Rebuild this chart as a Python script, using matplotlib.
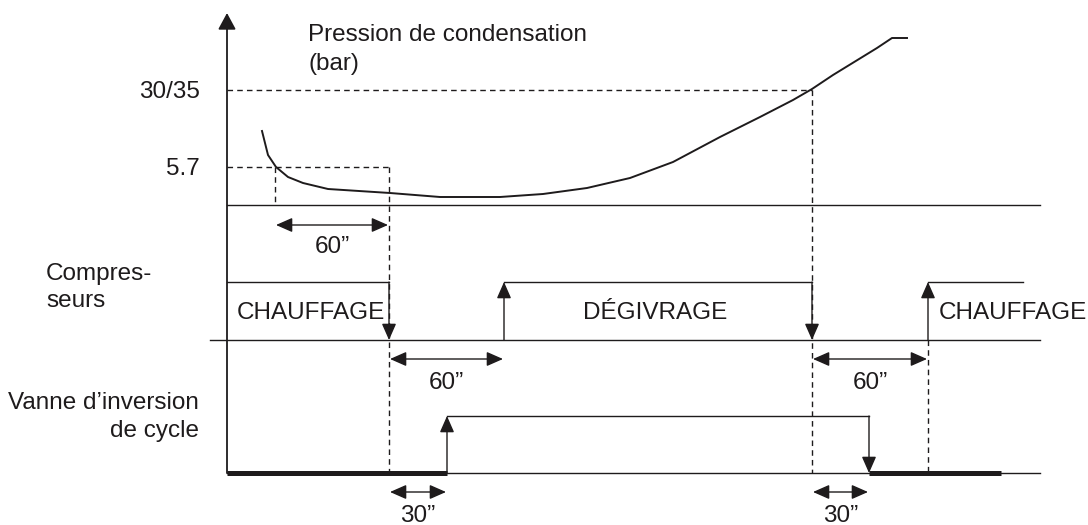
import matplotlib.pyplot as plt

plt.rcParams['font.family'] = ['Liberation Sans', 'DejaVu Sans']

ink = '#1e1b1c'
fs = 17.5

# time scale of the diagram (x) and signal levels (y, drawn downward)
t_axis = 227
t_end = 1040
t_pressure_start = 275   # pressure drops under 5.7 bar
t_comp_off = [389, 812]
t_comp_on = [504, 928]
t_valve_on = 447
t_valve_off = 869
t_comp_last = 1023
t_valve_last = 1001

# condensation pressure curve
t_curve = [262, 268, 276, 288, 303, 328, 390, 440, 500, 543, 587, 630,
           673, 720, 760, 793, 812, 833, 877, 892, 907]
p_curve = [131, 155, 167, 177, 183, 189, 193, 197, 197, 194, 188, 178,
           162, 137, 117, 100, 89, 75, 48, 38, 38]

level_labels = ['30/35', '5.7']
level_y = [90, 167]

y_press_base = 205
y_comp_hi, y_comp_lo = 282, 340
y_valve_hi, y_valve_lo = 416, 473


def arrow(x0, y0, x1, y1, style='-|>'):
    ax.annotate('', xy=(x1, y1), xytext=(x0, y0),
                arrowprops=dict(arrowstyle=style + ',head_length=0.5,head_width=0.22',
                                lw=1, color=ink, shrinkA=0, shrinkB=0,
                                mutation_scale=20))


def dashed(xs, ys):
    ax.plot(xs, ys, color=ink, lw=1, linestyle=(0, (4, 3)))


def label(x, y, s, ha='left'):
    ax.text(x, y, s, ha=ha, va='baseline', fontsize=fs, color=ink)


def span(x0, x1, y, s, y_text):
    arrow(x0 + 1, y, x1 - 1, y, style='<|-|>')
    label((x0 + x1) / 2, y_text, s, ha='center')


fig = plt.figure(figsize=(10.88, 5.25), dpi=100)
ax = fig.add_axes([0, 0, 1, 1])
ax.set_xlim(0, 1088)
ax.set_ylim(525, 0)
ax.axis('off')

# vertical axis
ax.annotate('', xy=(t_axis, 13), xytext=(t_axis, y_valve_lo),
            arrowprops=dict(arrowstyle='-|>,head_length=0.5,head_width=0.27',
                            lw=1.3, color=ink, shrinkA=0, shrinkB=0,
                            mutation_scale=20))

# pressure panel
ax.plot([t_axis, t_end], [y_press_base] * 2, color=ink, lw=1)
ax.plot(t_curve, p_curve, color=ink, lw=1.4)
dashed([t_axis, t_comp_off[1]], [level_y[0]] * 2)
dashed([t_axis, t_comp_off[0]], [level_y[1]] * 2)
dashed([t_pressure_start] * 2, [level_y[1], y_press_base])
dashed([t_comp_off[0]] * 2, [level_y[1], y_valve_lo])
dashed([t_comp_off[1]] * 2, [level_y[0], y_valve_lo])
dashed([t_comp_on[1]] * 2, [y_comp_lo, y_valve_lo])
for lab, y in zip(level_labels, level_y):
    label(200, y + 8, lab, ha='right')
label(308, 41, 'Pression de condensation')
label(308, 70, '(bar)')
span(t_pressure_start, t_comp_off[0], 225, '60\u201d', 253)

# compressors panel
ax.plot([210, t_end], [y_comp_lo] * 2, color=ink, lw=1)
ax.plot([t_axis, t_comp_off[0]], [y_comp_hi] * 2, color=ink, lw=1)
ax.plot([t_comp_on[0], t_comp_off[1]], [y_comp_hi] * 2, color=ink, lw=1)
ax.plot([t_comp_on[1], t_comp_last], [y_comp_hi] * 2, color=ink, lw=1)
for t in t_comp_off:
    arrow(t, y_comp_hi, t, y_comp_lo)
for t in t_comp_on:
    arrow(t, y_comp_lo, t, y_comp_hi)
label(46, 280, 'Compres-')
label(46, 307, 'seurs')
label(237, 319, 'CHAUFFAGE')
label(655, 319, 'DÉGIVRAGE', ha='center')
label(939, 319, 'CHAUFFAGE')
span(t_comp_off[0], t_comp_on[0], 359, '60\u201d', 389)
span(t_comp_off[1], t_comp_on[1], 359, '60\u201d', 389)

# reversing valve panel
ax.plot([t_axis, t_end], [y_valve_lo] * 2, color=ink, lw=1)
ax.plot([t_axis, t_valve_on], [y_valve_lo] * 2, color=ink, lw=3.6,
        solid_capstyle='butt')
ax.plot([t_valve_off, t_valve_last], [y_valve_lo] * 2, color=ink, lw=3.6,
        solid_capstyle='butt')
ax.plot([t_valve_on, t_valve_off], [y_valve_hi] * 2, color=ink, lw=1)
arrow(t_valve_on, y_valve_lo, t_valve_on, y_valve_hi)
arrow(t_valve_off, y_valve_hi, t_valve_off, y_valve_lo)
label(199, 409, 'Vanne d\u2019inversion', ha='right')
label(199, 437, 'de cycle', ha='right')
span(t_comp_off[0], t_valve_on, 492, '30\u201d', 522)
span(t_comp_off[1], t_valve_off, 492, '30\u201d', 522)

fig.savefig('out.png', dpi=100)
